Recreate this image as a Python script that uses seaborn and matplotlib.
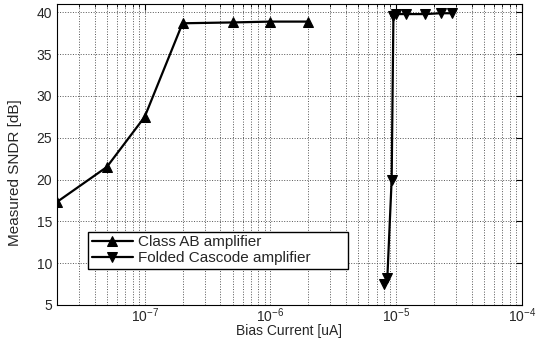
import pandas as pd
import matplotlib
matplotlib.use("Agg")
import matplotlib.pyplot as plt
import seaborn as sns
from matplotlib.ticker import LogLocator, NullFormatter

# Data
ab_current = [2e-8, 5e-8, 1e-7, 2e-7, 5e-7, 1e-6, 2e-6]
ab_sndr = [17.3, 21.5, 27.5, 38.7, 38.8, 38.9, 38.9]

fc_current = [8.0e-6, 8.5e-6, 9.2e-6, 9.5e-6, 1.0e-5, 1.2e-5, 1.7e-5, 2.25e-5, 2.8e-5]
fc_sndr = [7.5, 8.2, 20.0, 39.6, 39.8, 39.8, 39.8, 39.9, 39.9]

labels = ["Class AB amplifier", "Folded Cascode amplifier"]

df = pd.concat(
    [
        pd.DataFrame({"Current": ab_current, "SNDR": ab_sndr, "Amp": labels[0]}),
        pd.DataFrame({"Current": fc_current, "SNDR": fc_sndr, "Amp": labels[1]}),
    ],
    ignore_index=True,
)

sns.set_style("white")
plt.rcParams["font.family"] = ["Liberation Sans", "DejaVu Sans"]

fig = plt.figure(figsize=(5.46, 3.38), dpi=100)
ax = fig.add_axes([0.104, 0.098, 0.852, 0.89])

sns.lineplot(
    data=df,
    x="Current",
    y="SNDR",
    style="Amp",
    markers={labels[0]: "^", labels[1]: "v"},
    dashes=False,
    color="black",
    linewidth=1.6,
    markersize=6.5,
    markeredgecolor="black",
    sort=False,
    ax=ax,
)

ax.set_xscale("log")
ax.set_xlim(2e-8, 1e-4)
ax.set_ylim(5, 41)
ax.set_yticks(range(5, 41, 5))
ax.xaxis.set_major_locator(LogLocator(base=10, numticks=10))
ax.xaxis.set_minor_locator(LogLocator(base=10, subs=range(2, 10), numticks=20))
ax.xaxis.set_minor_formatter(NullFormatter())

ax.grid(True, which="major", axis="both", linestyle=":", color="#555555", linewidth=0.7)
ax.grid(True, which="minor", axis="x", linestyle=":", color="#555555", linewidth=0.7)

ax.tick_params(axis="both", which="both", direction="in", top=True, right=True,
               labelsize=10, color="black")
ax.tick_params(axis="both", which="major", length=4)
ax.tick_params(axis="x", which="major", pad=1)
ax.tick_params(axis="x", which="minor", length=2)
for s in ax.spines.values():
    s.set_color("black")
    s.set_linewidth(0.8)

ax.set_xlabel("Bias Current [uA]", fontsize=10)
ax.xaxis.set_label_coords(0.5, -0.062)
ax.set_ylabel("Measured SNDR [dB]", fontsize=11)
ax.yaxis.set_label_coords(-0.075, 0.44)

ax.legend(
    loc="lower left",
    bbox_to_anchor=(0.067, 0.12, 0.56, 0.125),
    mode="expand",
    fontsize=11,
    frameon=True,
    fancybox=False,
    edgecolor="black",
    framealpha=1,
    borderpad=0.25,
    labelspacing=0.1,
    handlelength=2.7,
    handletextpad=0.3,
    borderaxespad=0,
)

fig.savefig("out.png", dpi=100)
